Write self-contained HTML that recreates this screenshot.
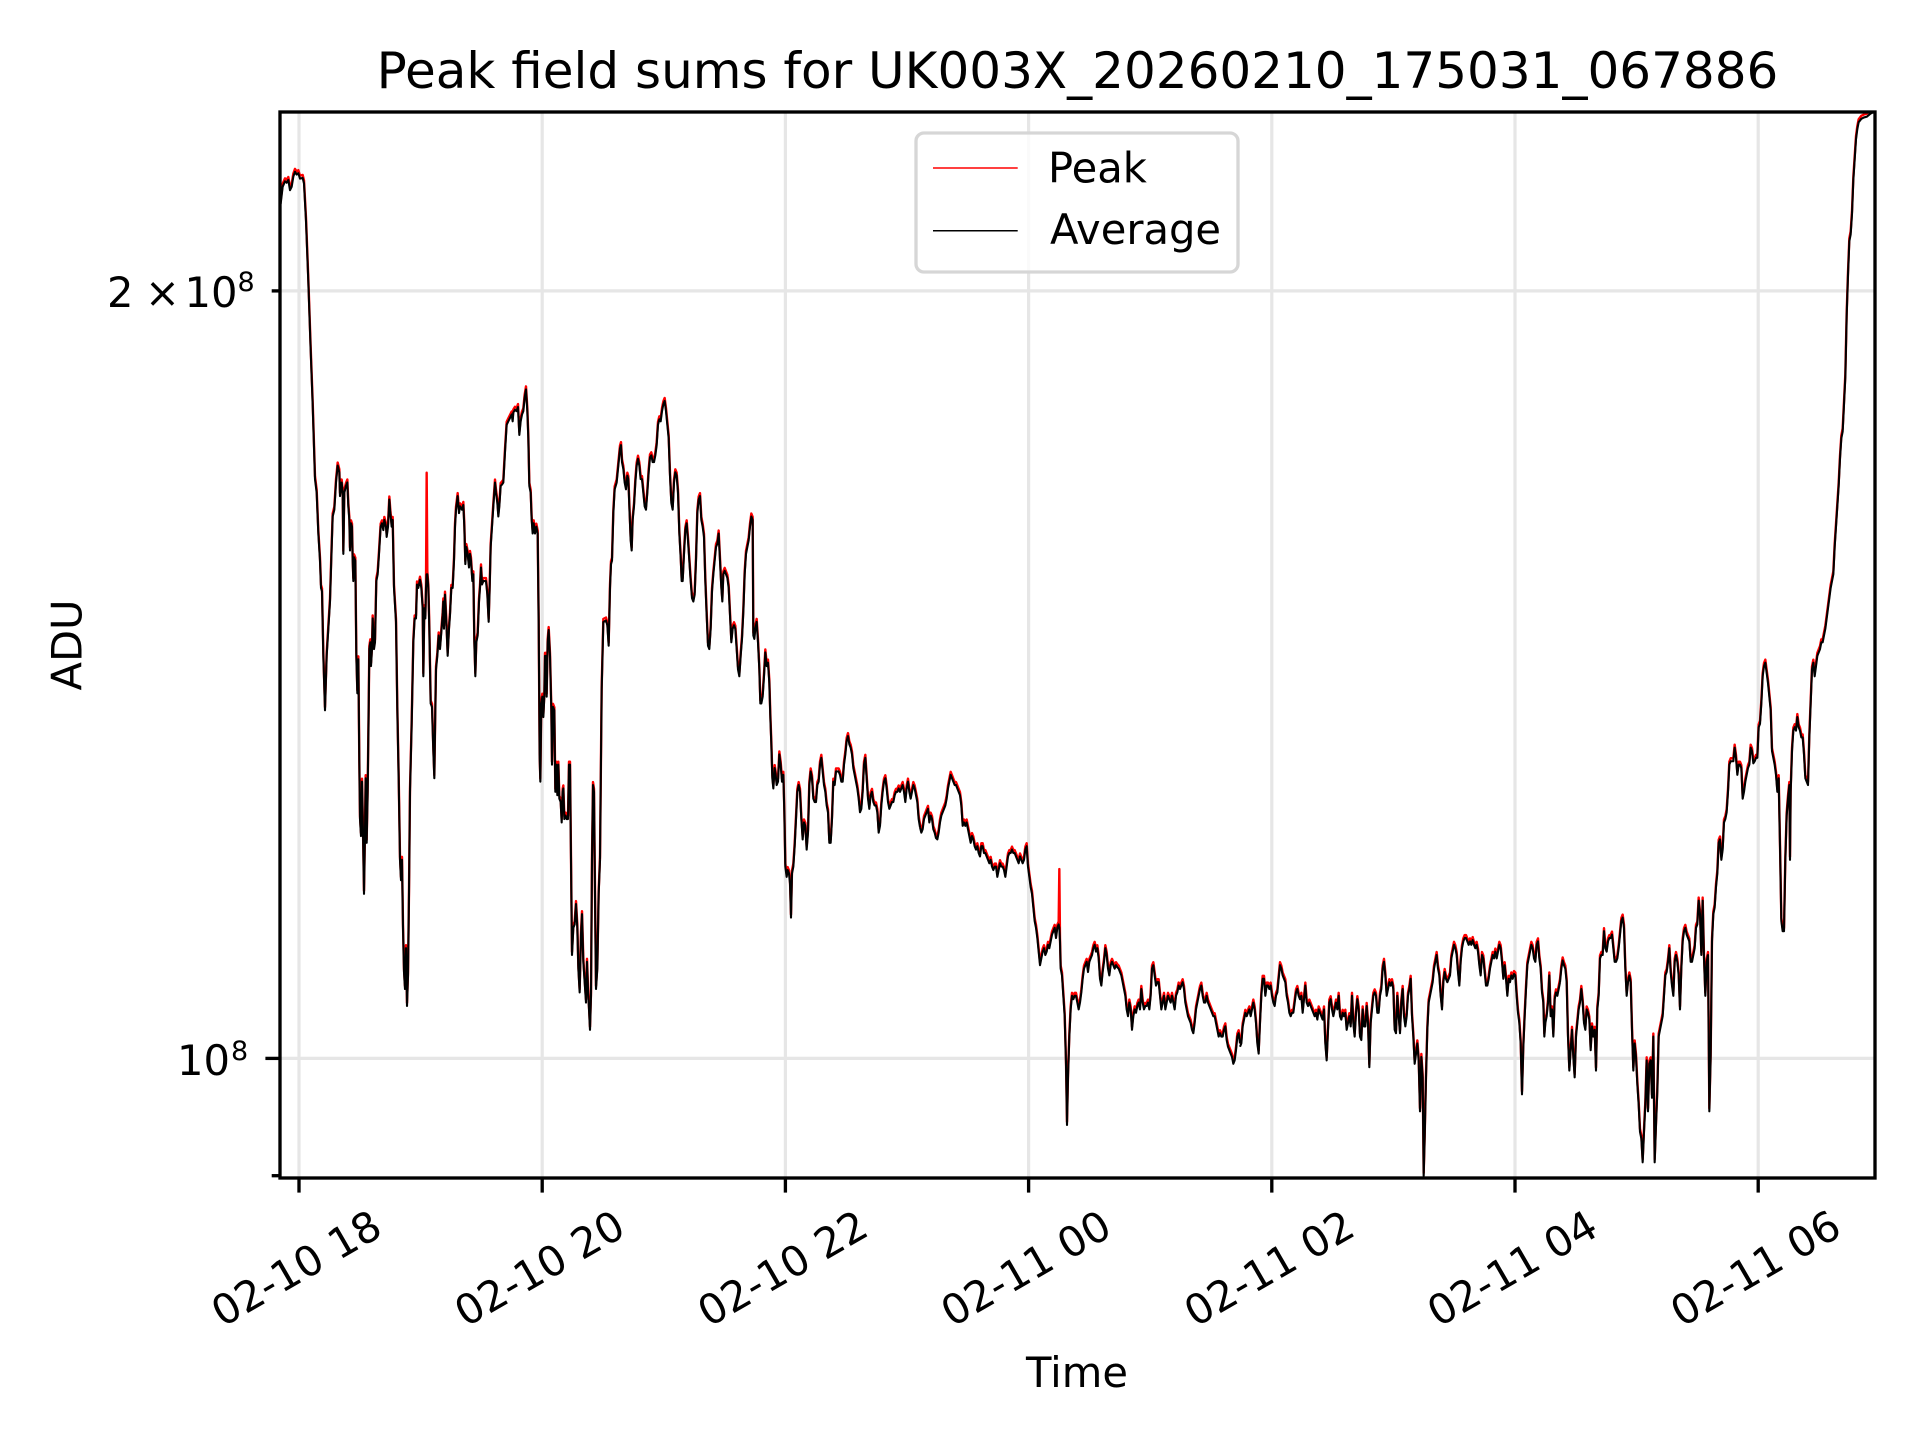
<!DOCTYPE html>
<html>
<head>
<meta charset="utf-8">
<style>
  html, body { margin: 0; padding: 0; background: #ffffff; }
  svg { display: block; }
  text { font-family: "DejaVu Sans", "Liberation Sans", sans-serif; fill: #000; }
</style>
</head>
<body>
<svg width="1920" height="1440" viewBox="0 0 1920 1440" xmlns="http://www.w3.org/2000/svg">
  <rect x="0" y="0" width="1920" height="1440" fill="#ffffff"/>
  <defs>
    <clipPath id="ax">
      <rect x="280" y="112" width="1595" height="1066"/>
    </clipPath>
  </defs>

  <!-- grid -->
  <g stroke="#e6e6e6" stroke-width="3.2" fill="none">
    <line x1="299" y1="112" x2="299" y2="1178"/>
    <line x1="542.2" y1="112" x2="542.2" y2="1178"/>
    <line x1="785.4" y1="112" x2="785.4" y2="1178"/>
    <line x1="1028.6" y1="112" x2="1028.6" y2="1178"/>
    <line x1="1271.8" y1="112" x2="1271.8" y2="1178"/>
    <line x1="1515" y1="112" x2="1515" y2="1178"/>
    <line x1="1758.2" y1="112" x2="1758.2" y2="1178"/>
    <line x1="280" y1="290.9" x2="1875" y2="290.9"/>
    <line x1="280" y1="1058.4" x2="1875" y2="1058.4"/>
  </g>

  <g clip-path="url(#ax)" fill="none" stroke-linejoin="round">
    <!-- Peak (red), offset slightly upward -->
    <g transform="translate(0,-3)" stroke="#ff0000">
      <g transform="translate(280,112) scale(0.333333,0.679847)">
        <path vector-effect="non-scaling-stroke" stroke-width="2.4" d="M0,105 L2,135 L8,110 L15,102 L20,104 L25,100 L30,115 L35,110 L40,95 L45,88 L50,92 L55,90 L60,98 L68,97 L72,105 L78,160 L85,250 L92,350 L98,430 L105,540 L110,560 L115,620 L120,660 L123,700 L126,705 L130,800 L135,880 L140,800 L145,760 L150,720 L155,640 L158,595 L163,585 L168,545 L173,520 L178,530 L180,565 L185,545 L188,560 L190,650 L193,560 L198,550 L202,545 L205,580 L208,600 L210,645 L213,605 L216,610 L218,660 L220,690 L222,655 L226,660 L229,800 L232,855 L235,805 L238,960 L240,1040 L243,1065 L246,985 L249,1060 L252,1150 L255,1060 L257,980 L260,1075 L263,1000 L266,880 L268,790 L271,780 L273,815 L276,790 L278,745 L282,790 L285,780 L289,690 L293,680 L297,650 L302,610 L306,605 L310,615 L313,600 L318,610 L320,625 L324,610 L328,570 L331,590 L335,610 L338,600 L342,700 L348,750 L352,880 L356,980 L360,1100 L363,1130 L366,1100 L369,1200 L372,1265 L375,1290 L378,1230 L381,1315 L384,1270 L387,1150 L390,1000 L395,900 L400,780 L404,745 L408,745 L411,695 L415,700 L420,688 L424,700 L428,730 L430,830 L433,730 L436,745 L438,700 L440,535 L442,680 L445,700 L448,760 L452,870 L456,875 L460,940 L463,980 L466,880 L468,820 L472,800 L476,770 L480,790 L484,765 L488,740 L490,720 L492,760 L495,710 L499,750 L503,800 L507,760 L510,740 L514,700 L518,700 L522,660 L525,610 L528,585 L533,565 L537,590 L540,580 L546,585 L550,578 L553,610 L556,665 L559,640 L563,650 L567,670 L570,650 L573,660 L577,690 L580,680 L583,780 L586,830 L589,780 L593,770 L597,720 L600,700 L603,670 L606,695 L610,690 L614,690 L618,690 L622,710 L626,750 L629,700 L632,640 L636,610 L640,580 L645,545 L648,560 L652,575 L655,595 L658,580 L662,550 L666,548 L670,545 L675,500 L680,460 L685,455 L690,450 L695,445 L698,455 L700,442 L705,438 L710,440 L714,434 L718,475 L722,455 L726,445 L730,440 L734,420 L738,408 L742,440 L745,480 L748,550 L752,560 L755,600 L758,620 L761,605 L765,620 L769,610 L773,620 L776,750 L779,950 L781,985 L784,870 L787,860 L790,890 L793,860 L795,800 L798,800 L800,860 L803,780 L806,762 L810,800 L814,880 L816,960 L819,875 L823,880 L826,1000 L829,960 L832,1005 L835,960 L838,1010 L842,1015 L845,1045 L848,1000 L850,995 L853,1040 L857,1035 L860,1040 L864,1040 L867,960 L870,960 L873,1100 L876,1240 L880,1200 L884,1195 L888,1165 L892,1200 L895,1260 L899,1295 L903,1210 L906,1180 L910,1250 L914,1280 L918,1310 L921,1250 L924,1290 L927,1320 L930,1350 L933,1300 L936,1100 L939,990 L942,1000 L945,1150 L948,1290 L952,1260 L956,1150 L960,1100"/>
      </g>
      <g transform="translate(600,112) scale(0.333333,0.679847)">
        <path vector-effect="non-scaling-stroke" stroke-width="2.4" d="M0,1100 L5,850 L10,750 L18,748 L22,755 L26,785 L30,700 L33,665 L36,660 L40,590 L44,555 L50,545 L55,520 L60,495 L63,490 L66,515 L70,525 L74,545 L78,555 L82,535 L85,540 L88,580 L92,630 L95,645 L98,600 L102,580 L106,545 L110,520 L114,510 L118,520 L122,540 L126,540 L130,560 L134,580 L138,585 L142,560 L146,530 L150,508 L154,505 L158,515 L162,515 L166,505 L170,490 L174,460 L178,452 L182,455 L186,440 L190,430 L194,425 L198,440 L202,460 L206,480 L210,535 L214,575 L218,585 L222,545 L226,530 L230,535 L234,560 L238,620 L242,655 L245,690 L248,690 L252,650 L256,615 L260,605 L264,630 L268,660 L272,690 L276,715 L280,720 L284,710 L288,660 L292,590 L296,570 L300,565 L304,600 L308,610 L312,625 L316,690 L320,740 L324,785 L328,790 L332,760 L336,705 L340,680 L344,660 L348,640 L352,635 L356,620 L360,660 L364,700 L367,720 L370,680 L374,675 L378,680 L382,685 L386,700 L390,740 L394,780 L398,760 L402,755 L406,760 L410,790 L414,820 L418,830 L422,800 L426,775 L430,735 L434,680 L438,650 L442,640 L446,630 L450,610 L454,595 L458,600 L460,770 L463,775 L466,760 L470,750 L474,780 L478,820 L481,870 L484,870 L488,860 L492,830 L496,795 L500,815 L504,810 L508,840 L511,890 L514,930 L517,980 L520,995 L524,965 L527,975 L530,990 L534,985 L538,945 L542,960 L546,985 L550,975 L553,1030 L556,1110 L560,1125 L563,1115 L567,1120 L570,1135 L573,1185 L576,1120 L580,1110 L584,1080 L588,1040 L592,1000 L596,990 L600,1000 L604,1040 L608,1070 L612,1045 L616,1050 L620,1085 L624,1060 L628,990 L632,970 L636,980 L640,1010 L644,1015 L648,1015 L652,990 L656,985 L660,960 L664,950 L668,970 L672,990 L676,1000 L680,1020 L684,1030 L688,1075 L692,1075 L696,1040 L700,985 L704,990 L708,970 L712,970 L716,970 L720,975 L724,985 L728,985 L732,960 L736,945 L740,925 L744,918 L748,930 L752,935 L756,945 L760,965 L764,975 L768,985 L772,995 L776,1010 L780,1030 L784,1025 L788,1000 L792,960 L796,950 L800,980 L804,1010 L808,1025 L812,1005 L816,1000 L820,1015 L824,1020 L828,1020 L832,1030 L836,1060 L840,1050 L844,1020 L848,1000 L852,985 L856,980 L860,995 L864,1015 L868,1025 L872,1020 L876,1015 L880,1015 L884,1005 L888,1000 L892,1000 L896,995 L900,1000 L904,995 L908,990 L912,1000 L916,1015 L920,995 L924,985 L928,1000 L932,1010 L936,1000 L940,990 L944,995 L948,1005 L952,1015 L956,1040 L960,1052"/>
      </g>
      <g transform="translate(920,112) scale(0.333333,0.679847)">
        <path vector-effect="non-scaling-stroke" stroke-width="2.4" d="M0,1052 L4,1060 L8,1055 L12,1040 L16,1035 L20,1030 L24,1025 L28,1045 L32,1035 L36,1040 L40,1055 L44,1060 L48,1068 L52,1070 L56,1060 L60,1045 L64,1035 L68,1030 L72,1025 L76,1020 L80,1010 L84,995 L88,985 L92,975 L96,980 L100,985 L104,990 L108,990 L112,995 L116,1000 L120,1005 L124,1020 L128,1050 L132,1045 L136,1050 L140,1045 L144,1055 L148,1065 L152,1075 L156,1065 L160,1070 L164,1080 L168,1085 L172,1080 L176,1090 L180,1095 L184,1080 L188,1080 L192,1090 L196,1090 L200,1095 L204,1100 L208,1105 L212,1100 L216,1110 L220,1115 L224,1110 L228,1110 L232,1125 L236,1115 L240,1105 L244,1110 L248,1110 L252,1115 L256,1125 L260,1110 L264,1095 L268,1090 L272,1090 L276,1085 L280,1090 L284,1090 L288,1095 L292,1100 L296,1105 L300,1095 L304,1100 L308,1105 L312,1100 L316,1085 L320,1080 L324,1110 L328,1125 L332,1140 L336,1150 L340,1170 L344,1190 L348,1200 L352,1215 L356,1235 L360,1255 L364,1245 L368,1235 L372,1230 L376,1240 L380,1235 L384,1225 L388,1230 L392,1220 L396,1210 L400,1205 L404,1200 L408,1215 L412,1200 L416,1195 L418,1118 L420,1220 L422,1260 L426,1270 L430,1300 L434,1330 L438,1400 L441,1490 L444,1420 L448,1360 L452,1320 L456,1300 L460,1305 L464,1300 L468,1300 L472,1310 L476,1320 L480,1310 L484,1295 L488,1275 L492,1260 L496,1255 L500,1250 L504,1265 L508,1250 L512,1245 L516,1240 L520,1230 L524,1225 L528,1235 L532,1230 L536,1245 L540,1275 L544,1285 L548,1265 L552,1250 L556,1230 L560,1240 L564,1260 L568,1270 L572,1255 L576,1250 L580,1255 L584,1260 L588,1255 L592,1258 L596,1260 L600,1265 L604,1270 L608,1280 L612,1290 L616,1300 L620,1320 L624,1330 L628,1310 L632,1320 L636,1350 L640,1330 L644,1320 L648,1325 L652,1315 L656,1310 L660,1320 L664,1290 L668,1310 L672,1320 L676,1315 L680,1315 L684,1310 L688,1320 L692,1300 L696,1260 L700,1255 L704,1270 L708,1285 L712,1280 L716,1280 L720,1300 L724,1320 L728,1310 L732,1300 L736,1320 L740,1310 L744,1300 L748,1305 L752,1310 L756,1300 L760,1310 L764,1320 L768,1300 L772,1295 L776,1285 L780,1290 L784,1285 L788,1280 L792,1290 L796,1310 L800,1320 L804,1330 L808,1335 L812,1340 L816,1350 L820,1355 L824,1340 L828,1320 L832,1310 L836,1300 L840,1290 L844,1285 L848,1300 L852,1310 L856,1310 L860,1300 L864,1310 L868,1315 L872,1320 L876,1325 L880,1330 L884,1330 L888,1340 L892,1350 L896,1360 L900,1355 L904,1360 L908,1360 L912,1350 L916,1345 L920,1365 L924,1375 L928,1380 L932,1385 L936,1390 L940,1400 L944,1395 L948,1380 L952,1360 L956,1355 L960,1370"/>
      </g>
      <g transform="translate(1240,112) scale(0.333333,0.679847)">
        <path vector-effect="non-scaling-stroke" stroke-width="2.4" d="M0,1375 L4,1370 L8,1345 L12,1335 L16,1325 L20,1330 L24,1325 L28,1320 L32,1330 L36,1320 L40,1310 L44,1320 L48,1340 L52,1370 L56,1385 L60,1340 L64,1300 L68,1275 L72,1275 L76,1300 L80,1285 L84,1285 L88,1290 L92,1285 L96,1300 L100,1310 L104,1315 L108,1300 L112,1295 L116,1275 L120,1255 L124,1260 L128,1270 L132,1275 L136,1280 L140,1300 L144,1310 L148,1325 L152,1330 L156,1325 L160,1325 L164,1310 L168,1295 L172,1290 L176,1300 L180,1305 L184,1300 L188,1325 L192,1305 L196,1285 L200,1310 L204,1315 L208,1310 L212,1315 L216,1320 L220,1325 L224,1330 L228,1325 L232,1335 L236,1320 L240,1325 L244,1330 L248,1335 L252,1320 L256,1370 L260,1395 L264,1350 L268,1310 L272,1305 L276,1320 L280,1330 L284,1320 L288,1310 L292,1320 L296,1300 L300,1330 L304,1335 L308,1325 L312,1330 L316,1325 L320,1350 L324,1340 L328,1330 L332,1345 L336,1300 L340,1340 L344,1360 L348,1325 L352,1305 L356,1320 L360,1360 L364,1365 L368,1320 L372,1345 L376,1345 L380,1315 L384,1340 L388,1405 L392,1340 L396,1320 L400,1300 L404,1295 L408,1300 L412,1325 L416,1325 L420,1300 L424,1290 L428,1260 L432,1250 L436,1270 L440,1300 L444,1290 L448,1280 L452,1285 L456,1280 L460,1290 L464,1350 L468,1355 L472,1300 L476,1330 L480,1355 L484,1310 L488,1290 L492,1330 L496,1345 L500,1330 L504,1300 L508,1290 L512,1275 L516,1330 L520,1360 L524,1400 L528,1385 L532,1370 L536,1395 L540,1470 L544,1390 L548,1420 L551,1565 L554,1510 L558,1420 L562,1350 L566,1310 L570,1300 L574,1290 L578,1280 L582,1260 L586,1250 L590,1240 L594,1260 L598,1270 L602,1300 L606,1320 L610,1280 L614,1265 L618,1275 L622,1280 L626,1275 L630,1270 L634,1245 L638,1235 L642,1225 L646,1230 L650,1240 L654,1265 L658,1285 L662,1250 L666,1230 L670,1220 L674,1215 L678,1215 L682,1220 L686,1225 L690,1220 L694,1225 L698,1218 L702,1225 L706,1230 L710,1225 L714,1235 L718,1255 L722,1270 L726,1240 L730,1245 L734,1265 L738,1285 L742,1285 L746,1275 L750,1260 L754,1250 L758,1240 L762,1245 L766,1235 L770,1245 L774,1235 L778,1225 L782,1230 L786,1250 L790,1275 L794,1255 L798,1275 L802,1300 L806,1275 L810,1280 L814,1270 L818,1275 L822,1268 L826,1270 L830,1300 L834,1325 L838,1340 L842,1370 L846,1445 L850,1375 L854,1330 L858,1290 L862,1255 L866,1245 L870,1235 L874,1225 L878,1230 L882,1245 L886,1250 L890,1225 L894,1220 L898,1245 L902,1260 L906,1295 L910,1310 L913,1360 L916,1340 L920,1330 L924,1310 L928,1270 L932,1330 L936,1320 L940,1360 L944,1305 L948,1295 L952,1300 L956,1290 L960,1280"/>
      </g>
      <g transform="translate(1560,112) scale(0.333333,0.679847)">
        <path vector-effect="non-scaling-stroke" stroke-width="2.4" d="M0,1280 L4,1260 L8,1248 L12,1255 L16,1260 L20,1280 L24,1360 L28,1410 L32,1380 L36,1350 L40,1390 L44,1420 L48,1360 L52,1340 L56,1320 L60,1310 L64,1290 L68,1310 L72,1340 L76,1350 L80,1320 L84,1325 L88,1335 L92,1380 L96,1345 L100,1360 L104,1350 L108,1410 L112,1320 L116,1300 L120,1245 L124,1240 L128,1240 L132,1205 L136,1230 L140,1235 L144,1220 L148,1215 L152,1215 L156,1210 L160,1230 L164,1250 L168,1250 L172,1245 L176,1230 L180,1210 L184,1190 L188,1185 L192,1200 L196,1260 L200,1300 L204,1280 L208,1270 L212,1280 L216,1350 L220,1410 L224,1370 L228,1390 L232,1430 L236,1460 L240,1500 L244,1510 L248,1545 L252,1500 L256,1460 L260,1395 L264,1470 L268,1400 L272,1395 L276,1450 L280,1360 L284,1545 L288,1490 L292,1440 L296,1360 L300,1350 L304,1340 L308,1330 L312,1300 L316,1270 L320,1265 L324,1250 L328,1230 L332,1265 L336,1285 L340,1300 L344,1250 L348,1240 L352,1250 L356,1270 L360,1320 L364,1260 L368,1220 L372,1205 L376,1200 L380,1210 L384,1215 L388,1220 L392,1250 L396,1250 L400,1240 L404,1230 L408,1200 L412,1195 L416,1160 L420,1180 L424,1240 L428,1160 L432,1245 L436,1300 L440,1250 L444,1240 L448,1470 L452,1390 L456,1220 L460,1180 L464,1170 L468,1140 L472,1120 L476,1075 L480,1070 L484,1100 L488,1085 L492,1045 L496,1040 L500,1030 L504,1000 L508,960 L512,955 L516,955 L520,955 L524,935 L528,950 L532,975 L536,960 L540,960 L544,965 L548,1010 L552,1000 L556,985 L560,975 L564,965 L568,960 L572,935 L576,940 L580,958 L584,955 L588,950 L592,950 L596,905 L600,900 L604,870 L608,830 L612,815 L616,810 L620,825 L624,840 L628,860 L632,880 L636,940 L640,950 L644,960 L648,975 L652,1000 L656,980 L660,1080 L664,1190 L668,1205 L672,1205 L676,1100 L680,1035 L684,1010 L688,990 L690,1100 L692,1000 L696,940 L700,910 L704,905 L708,910 L712,890 L716,905 L720,910 L724,920 L728,920 L732,945 L736,980 L740,985 L744,990 L748,920 L752,870 L756,820 L760,810 L764,830 L768,815 L772,800 L776,795 L780,790 L784,780 L788,780 L792,770 L796,760 L800,745 L804,730 L808,715 L812,700 L816,690 L820,680 L824,640 L828,610 L832,580 L836,550 L840,510 L844,480 L848,470 L852,430 L856,390 L860,300 L864,240 L868,190 L872,180 L876,150 L880,100 L884,70 L888,40 L892,25 L896,15 L904,10 L912,8 L920,7 L930,3 L940,0"/>
      </g>
    </g>

    <!-- Average (black) -->
    <g stroke="#000000">
      <g transform="translate(280,112) scale(0.333333,0.679847)">
        <path vector-effect="non-scaling-stroke" stroke-width="2.1" d="M0,105 L2,135 L8,110 L15,102 L20,104 L25,100 L30,115 L35,110 L40,95 L45,88 L50,92 L55,90 L60,98 L68,97 L72,105 L78,160 L85,250 L92,350 L98,430 L105,540 L110,560 L115,620 L120,660 L123,700 L126,705 L130,800 L135,880 L140,800 L145,760 L150,720 L155,640 L158,595 L163,585 L168,545 L173,520 L178,530 L180,565 L185,545 L188,560 L190,650 L193,560 L198,550 L202,545 L205,580 L208,600 L210,645 L213,605 L216,610 L218,660 L220,690 L222,655 L226,660 L229,800 L232,855 L235,805 L238,960 L240,1040 L243,1065 L246,985 L249,1060 L252,1150 L255,1060 L257,980 L260,1075 L263,1000 L266,880 L268,790 L271,780 L273,815 L276,790 L278,745 L282,790 L285,780 L289,690 L293,680 L297,650 L302,610 L306,605 L310,615 L313,600 L318,610 L320,625 L324,610 L328,570 L331,590 L335,610 L338,600 L342,700 L348,750 L352,880 L356,980 L360,1100 L363,1130 L366,1100 L369,1200 L372,1265 L375,1290 L378,1230 L381,1315 L384,1270 L387,1150 L390,1000 L395,900 L400,780 L404,745 L408,745 L411,695 L415,700 L420,688 L424,700 L428,730 L430,830 L433,730 L436,745 L438,700 L440,680 L442,680 L445,700 L448,760 L452,870 L456,875 L460,940 L463,980 L466,880 L468,820 L472,800 L476,770 L480,790 L484,765 L488,740 L490,720 L492,760 L495,710 L499,750 L503,800 L507,760 L510,740 L514,700 L518,700 L522,660 L525,610 L528,585 L533,565 L537,590 L540,580 L546,585 L550,578 L553,610 L556,665 L559,640 L563,650 L567,670 L570,650 L573,660 L577,690 L580,680 L583,780 L586,830 L589,780 L593,770 L597,720 L600,700 L603,670 L606,695 L610,690 L614,690 L618,690 L622,710 L626,750 L629,700 L632,640 L636,610 L640,580 L645,545 L648,560 L652,575 L655,595 L658,580 L662,550 L666,548 L670,545 L675,500 L680,460 L685,455 L690,450 L695,445 L698,455 L700,442 L705,438 L710,440 L714,434 L718,475 L722,455 L726,445 L730,440 L734,420 L738,408 L742,440 L745,480 L748,550 L752,560 L755,600 L758,620 L761,605 L765,620 L769,610 L773,620 L776,750 L779,950 L781,985 L784,870 L787,860 L790,890 L793,860 L795,800 L798,800 L800,860 L803,780 L806,762 L810,800 L814,880 L816,960 L819,875 L823,880 L826,1000 L829,960 L832,1005 L835,960 L838,1010 L842,1015 L845,1045 L848,1000 L850,995 L853,1040 L857,1035 L860,1040 L864,1040 L867,960 L870,960 L873,1100 L876,1240 L880,1200 L884,1195 L888,1165 L892,1200 L895,1260 L899,1295 L903,1210 L906,1180 L910,1250 L914,1280 L918,1310 L921,1250 L924,1290 L927,1320 L930,1350 L933,1300 L936,1100 L939,990 L942,1000 L945,1150 L948,1290 L952,1260 L956,1150 L960,1100"/>
      </g>
      <g transform="translate(600,112) scale(0.333333,0.679847)">
        <path vector-effect="non-scaling-stroke" stroke-width="2.1" d="M0,1100 L5,850 L10,750 L18,748 L22,755 L26,785 L30,700 L33,665 L36,660 L40,590 L44,555 L50,545 L55,520 L60,495 L63,490 L66,515 L70,525 L74,545 L78,555 L82,535 L85,540 L88,580 L92,630 L95,645 L98,600 L102,580 L106,545 L110,520 L114,510 L118,520 L122,540 L126,540 L130,560 L134,580 L138,585 L142,560 L146,530 L150,508 L154,505 L158,515 L162,515 L166,505 L170,490 L174,460 L178,452 L182,455 L186,440 L190,430 L194,425 L198,440 L202,460 L206,480 L210,535 L214,575 L218,585 L222,545 L226,530 L230,535 L234,560 L238,620 L242,655 L245,690 L248,690 L252,650 L256,615 L260,605 L264,630 L268,660 L272,690 L276,715 L280,720 L284,710 L288,660 L292,590 L296,570 L300,565 L304,600 L308,610 L312,625 L316,690 L320,740 L324,785 L328,790 L332,760 L336,705 L340,680 L344,660 L348,640 L352,635 L356,620 L360,660 L364,700 L367,720 L370,680 L374,675 L378,680 L382,685 L386,700 L390,740 L394,780 L398,760 L402,755 L406,760 L410,790 L414,820 L418,830 L422,800 L426,775 L430,735 L434,680 L438,650 L442,640 L446,630 L450,610 L454,595 L458,600 L460,770 L463,775 L466,760 L470,750 L474,780 L478,820 L481,870 L484,870 L488,860 L492,830 L496,795 L500,815 L504,810 L508,840 L511,890 L514,930 L517,980 L520,995 L524,965 L527,975 L530,990 L534,985 L538,945 L542,960 L546,985 L550,975 L553,1030 L556,1110 L560,1125 L563,1115 L567,1120 L570,1135 L573,1185 L576,1120 L580,1110 L584,1080 L588,1040 L592,1000 L596,990 L600,1000 L604,1040 L608,1070 L612,1045 L616,1050 L620,1085 L624,1060 L628,990 L632,970 L636,980 L640,1010 L644,1015 L648,1015 L652,990 L656,985 L660,960 L664,950 L668,970 L672,990 L676,1000 L680,1020 L684,1030 L688,1075 L692,1075 L696,1040 L700,985 L704,990 L708,970 L712,970 L716,970 L720,975 L724,985 L728,985 L732,960 L736,945 L740,925 L744,918 L748,930 L752,935 L756,945 L760,965 L764,975 L768,985 L772,995 L776,1010 L780,1030 L784,1025 L788,1000 L792,960 L796,950 L800,980 L804,1010 L808,1025 L812,1005 L816,1000 L820,1015 L824,1020 L828,1020 L832,1030 L836,1060 L840,1050 L844,1020 L848,1000 L852,985 L856,980 L860,995 L864,1015 L868,1025 L872,1020 L876,1015 L880,1015 L884,1005 L888,1000 L892,1000 L896,995 L900,1000 L904,995 L908,990 L912,1000 L916,1015 L920,995 L924,985 L928,1000 L932,1010 L936,1000 L940,990 L944,995 L948,1005 L952,1015 L956,1040 L960,1052"/>
      </g>
      <g transform="translate(920,112) scale(0.333333,0.679847)">
        <path vector-effect="non-scaling-stroke" stroke-width="2.1" d="M0,1052 L4,1060 L8,1055 L12,1040 L16,1035 L20,1030 L24,1025 L28,1045 L32,1035 L36,1040 L40,1055 L44,1060 L48,1068 L52,1070 L56,1060 L60,1045 L64,1035 L68,1030 L72,1025 L76,1020 L80,1010 L84,995 L88,985 L92,975 L96,980 L100,985 L104,990 L108,990 L112,995 L116,1000 L120,1005 L124,1020 L128,1050 L132,1045 L136,1050 L140,1045 L144,1055 L148,1065 L152,1075 L156,1065 L160,1070 L164,1080 L168,1085 L172,1080 L176,1090 L180,1095 L184,1080 L188,1080 L192,1090 L196,1090 L200,1095 L204,1100 L208,1105 L212,1100 L216,1110 L220,1115 L224,1110 L228,1110 L232,1125 L236,1115 L240,1105 L244,1110 L248,1110 L252,1115 L256,1125 L260,1110 L264,1095 L268,1090 L272,1090 L276,1085 L280,1090 L284,1090 L288,1095 L292,1100 L296,1105 L300,1095 L304,1100 L308,1105 L312,1100 L316,1085 L320,1080 L324,1110 L328,1125 L332,1140 L336,1150 L340,1170 L344,1190 L348,1200 L352,1215 L356,1235 L360,1255 L364,1245 L368,1235 L372,1230 L376,1240 L380,1235 L384,1225 L388,1230 L392,1220 L396,1210 L400,1205 L404,1200 L408,1215 L412,1200 L416,1195 L418,1200 L420,1220 L422,1260 L426,1270 L430,1300 L434,1330 L438,1400 L441,1490 L444,1420 L448,1360 L452,1320 L456,1300 L460,1305 L464,1300 L468,1300 L472,1310 L476,1320 L480,1310 L484,1295 L488,1275 L492,1260 L496,1255 L500,1250 L504,1265 L508,1250 L512,1245 L516,1240 L520,1230 L524,1225 L528,1235 L532,1230 L536,1245 L540,1275 L544,1285 L548,1265 L552,1250 L556,1230 L560,1240 L564,1260 L568,1270 L572,1255 L576,1250 L580,1255 L584,1260 L588,1255 L592,1258 L596,1260 L600,1265 L604,1270 L608,1280 L612,1290 L616,1300 L620,1320 L624,1330 L628,1310 L632,1320 L636,1350 L640,1330 L644,1320 L648,1325 L652,1315 L656,1310 L660,1320 L664,1290 L668,1310 L672,1320 L676,1315 L680,1315 L684,1310 L688,1320 L692,1300 L696,1260 L700,1255 L704,1270 L708,1285 L712,1280 L716,1280 L720,1300 L724,1320 L728,1310 L732,1300 L736,1320 L740,1310 L744,1300 L748,1305 L752,1310 L756,1300 L760,1310 L764,1320 L768,1300 L772,1295 L776,1285 L780,1290 L784,1285 L788,1280 L792,1290 L796,1310 L800,1320 L804,1330 L808,1335 L812,1340 L816,1350 L820,1355 L824,1340 L828,1320 L832,1310 L836,1300 L840,1290 L844,1285 L848,1300 L852,1310 L856,1310 L860,1300 L864,1310 L868,1315 L872,1320 L876,1325 L880,1330 L884,1330 L888,1340 L892,1350 L896,1360 L900,1355 L904,1360 L908,1360 L912,1350 L916,1345 L920,1365 L924,1375 L928,1380 L932,1385 L936,1390 L940,1400 L944,1395 L948,1380 L952,1360 L956,1355 L960,1370"/>
      </g>
      <g transform="translate(1240,112) scale(0.333333,0.679847)">
        <path vector-effect="non-scaling-stroke" stroke-width="2.1" d="M0,1375 L4,1370 L8,1345 L12,1335 L16,1325 L20,1330 L24,1325 L28,1320 L32,1330 L36,1320 L40,1310 L44,1320 L48,1340 L52,1370 L56,1385 L60,1340 L64,1300 L68,1275 L72,1275 L76,1300 L80,1285 L84,1285 L88,1290 L92,1285 L96,1300 L100,1310 L104,1315 L108,1300 L112,1295 L116,1275 L120,1255 L124,1260 L128,1270 L132,1275 L136,1280 L140,1300 L144,1310 L148,1325 L152,1330 L156,1325 L160,1325 L164,1310 L168,1295 L172,1290 L176,1300 L180,1305 L184,1300 L188,1325 L192,1305 L196,1285 L200,1310 L204,1315 L208,1310 L212,1315 L216,1320 L220,1325 L224,1330 L228,1325 L232,1335 L236,1320 L240,1325 L244,1330 L248,1335 L252,1320 L256,1370 L260,1395 L264,1350 L268,1310 L272,1305 L276,1320 L280,1330 L284,1320 L288,1310 L292,1320 L296,1300 L300,1330 L304,1335 L308,1325 L312,1330 L316,1325 L320,1350 L324,1340 L328,1330 L332,1345 L336,1300 L340,1340 L344,1360 L348,1325 L352,1305 L356,1320 L360,1360 L364,1365 L368,1320 L372,1345 L376,1345 L380,1315 L384,1340 L388,1405 L392,1340 L396,1320 L400,1300 L404,1295 L408,1300 L412,1325 L416,1325 L420,1300 L424,1290 L428,1260 L432,1250 L436,1270 L440,1300 L444,1290 L448,1280 L452,1285 L456,1280 L460,1290 L464,1350 L468,1355 L472,1300 L476,1330 L480,1355 L484,1310 L488,1290 L492,1330 L496,1345 L500,1330 L504,1300 L508,1290 L512,1275 L516,1330 L520,1360 L524,1400 L528,1385 L532,1370 L536,1395 L540,1470 L544,1390 L548,1420 L551,1565 L554,1510 L558,1420 L562,1350 L566,1310 L570,1300 L574,1290 L578,1280 L582,1260 L586,1250 L590,1240 L594,1260 L598,1270 L602,1300 L606,1320 L610,1280 L614,1265 L618,1275 L622,1280 L626,1275 L630,1270 L634,1245 L638,1235 L642,1225 L646,1230 L650,1240 L654,1265 L658,1285 L662,1250 L666,1230 L670,1220 L674,1215 L678,1215 L682,1220 L686,1225 L690,1220 L694,1225 L698,1218 L702,1225 L706,1230 L710,1225 L714,1235 L718,1255 L722,1270 L726,1240 L730,1245 L734,1265 L738,1285 L742,1285 L746,1275 L750,1260 L754,1250 L758,1240 L762,1245 L766,1235 L770,1245 L774,1235 L778,1225 L782,1230 L786,1250 L790,1275 L794,1255 L798,1275 L802,1300 L806,1275 L810,1280 L814,1270 L818,1275 L822,1268 L826,1270 L830,1300 L834,1325 L838,1340 L842,1370 L846,1445 L850,1375 L854,1330 L858,1290 L862,1255 L866,1245 L870,1235 L874,1225 L878,1230 L882,1245 L886,1250 L890,1225 L894,1220 L898,1245 L902,1260 L906,1295 L910,1310 L913,1360 L916,1340 L920,1330 L924,1310 L928,1270 L932,1330 L936,1320 L940,1360 L944,1305 L948,1295 L952,1300 L956,1290 L960,1280"/>
      </g>
      <g transform="translate(1560,112) scale(0.333333,0.679847)">
        <path vector-effect="non-scaling-stroke" stroke-width="2.1" d="M0,1280 L4,1260 L8,1248 L12,1255 L16,1260 L20,1280 L24,1360 L28,1410 L32,1380 L36,1350 L40,1390 L44,1420 L48,1360 L52,1340 L56,1320 L60,1310 L64,1290 L68,1310 L72,1340 L76,1350 L80,1320 L84,1325 L88,1335 L92,1380 L96,1345 L100,1360 L104,1350 L108,1410 L112,1320 L116,1300 L120,1245 L124,1240 L128,1240 L132,1205 L136,1230 L140,1235 L144,1220 L148,1215 L152,1215 L156,1210 L160,1230 L164,1250 L168,1250 L172,1245 L176,1230 L180,1210 L184,1190 L188,1185 L192,1200 L196,1260 L200,1300 L204,1280 L208,1270 L212,1280 L216,1350 L220,1410 L224,1370 L228,1390 L232,1430 L236,1460 L240,1500 L244,1510 L248,1545 L252,1500 L256,1460 L260,1395 L264,1470 L268,1400 L272,1395 L276,1450 L280,1360 L284,1545 L288,1490 L292,1440 L296,1360 L300,1350 L304,1340 L308,1330 L312,1300 L316,1270 L320,1265 L324,1250 L328,1230 L332,1265 L336,1285 L340,1300 L344,1250 L348,1240 L352,1250 L356,1270 L360,1320 L364,1260 L368,1220 L372,1205 L376,1200 L380,1210 L384,1215 L388,1220 L392,1250 L396,1250 L400,1240 L404,1230 L408,1200 L412,1195 L416,1160 L420,1180 L424,1240 L428,1160 L432,1245 L436,1300 L440,1250 L444,1240 L448,1470 L452,1390 L456,1220 L460,1180 L464,1170 L468,1140 L472,1120 L476,1075 L480,1070 L484,1100 L488,1085 L492,1045 L496,1040 L500,1030 L504,1000 L508,960 L512,955 L516,955 L520,955 L524,935 L528,950 L532,975 L536,960 L540,960 L544,965 L548,1010 L552,1000 L556,985 L560,975 L564,965 L568,960 L572,935 L576,940 L580,958 L584,955 L588,950 L592,950 L596,905 L600,900 L604,870 L608,830 L612,815 L616,810 L620,825 L624,840 L628,860 L632,880 L636,940 L640,950 L644,960 L648,975 L652,1000 L656,980 L660,1080 L664,1190 L668,1205 L672,1205 L676,1100 L680,1035 L684,1010 L688,990 L690,1100 L692,1000 L696,940 L700,910 L704,905 L708,910 L712,890 L716,905 L720,910 L724,920 L728,920 L732,945 L736,980 L740,985 L744,990 L748,920 L752,870 L756,820 L760,810 L764,830 L768,815 L772,800 L776,795 L780,790 L784,780 L788,780 L792,770 L796,760 L800,745 L804,730 L808,715 L812,700 L816,690 L820,680 L824,640 L828,610 L832,580 L836,550 L840,510 L844,480 L848,470 L852,430 L856,390 L860,300 L864,240 L868,190 L872,180 L876,150 L880,100 L884,70 L888,40 L892,25 L896,15 L904,10 L912,8 L920,7 L930,3 L940,0"/>
      </g>
    </g>
  </g>

  <!-- spines -->
  <rect x="280" y="112" width="1595" height="1066" fill="none" stroke="#000" stroke-width="3.33"/>

  <!-- ticks -->
  <g stroke="#000" stroke-width="3.33">
    <line x1="299" y1="1178" x2="299" y2="1192.6"/>
    <line x1="542.2" y1="1178" x2="542.2" y2="1192.6"/>
    <line x1="785.4" y1="1178" x2="785.4" y2="1192.6"/>
    <line x1="1028.6" y1="1178" x2="1028.6" y2="1192.6"/>
    <line x1="1271.8" y1="1178" x2="1271.8" y2="1192.6"/>
    <line x1="1515" y1="1178" x2="1515" y2="1192.6"/>
    <line x1="1758.2" y1="1178" x2="1758.2" y2="1192.6"/>
    <line x1="280" y1="1058.4" x2="265.4" y2="1058.4"/>
    <line x1="280" y1="290.9" x2="271.7" y2="290.9"/>
    <line x1="280" y1="1175.7" x2="271.7" y2="1175.7"/>
  </g>

  <!-- x tick labels -->
  <g font-size="41.67" text-anchor="middle">
    <text transform="translate(296,1268) rotate(-30)" y="15">02-10 18</text>
    <text transform="translate(539.2,1268) rotate(-30)" y="15">02-10 20</text>
    <text transform="translate(782.4,1268) rotate(-30)" y="15">02-10 22</text>
    <text transform="translate(1025.6,1268) rotate(-30)" y="15">02-11 00</text>
    <text transform="translate(1268.8,1268) rotate(-30)" y="15">02-11 02</text>
    <text transform="translate(1512,1268) rotate(-30)" y="15">02-11 04</text>
    <text transform="translate(1755.2,1268) rotate(-30)" y="15">02-11 06</text>
  </g>

  <!-- y tick labels -->
  <g font-size="41.67">
    <text x="107" y="307">2</text>
    <text x="145" y="307">×</text>
    <text x="184.5" y="307">10</text>
    <text x="237.5" y="291" font-size="27">8</text>
    <text x="177" y="1075">10</text>
    <text x="231" y="1060" font-size="27">8</text>
  </g>

  <!-- axis labels -->
  <text x="1077" y="1387" font-size="41.67" text-anchor="middle">Time</text>
  <text transform="translate(81.5,645) rotate(-90)" font-size="41.67" text-anchor="middle">ADU</text>

  <!-- title -->
  <text x="1077.5" y="88" font-size="50" text-anchor="middle">Peak field sums for UK003X_20260210_175031_067886</text>

  <!-- legend -->
  <rect x="916" y="133" width="322" height="139" rx="8" ry="8" fill="#ffffff" fill-opacity="0.8" stroke="#d6d6d6" stroke-width="3.33"/>
  <line x1="933" y1="168" x2="1017.7" y2="168" stroke="#ff0000" stroke-width="1.5"/>
  <line x1="933" y1="230.7" x2="1017.7" y2="230.7" stroke="#000000" stroke-width="1.5"/>
  <text x="1048" y="182.7" font-size="41.67">Peak</text>
  <text x="1050" y="244" font-size="41.67">Average</text>
</svg>
</body>
</html>
